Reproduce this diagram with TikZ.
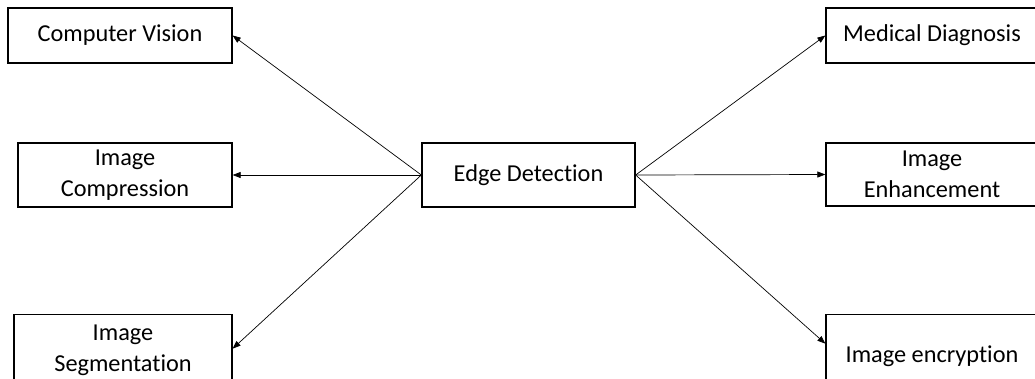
\documentclass[tikz,border=0pt]{standalone}
\usepackage{fontspec}
\setmainfont[Ligatures=NoCommon]{Carlito}
\usetikzlibrary{arrows.meta}
\begin{document}
\begin{tikzpicture}[x=1pt,y=-1pt,
  box/.style={draw=black,line width=1.3pt,fill=white,inner sep=0pt,align=center,
    font=\fontsize{24.3}{31}\selectfont},
  link/.style={line width=0.7pt,-{Triangle[length=8pt,width=6pt]}}]
\useasboundingbox (0,0) rectangle (1035,378);
% central node
\node[box,minimum width=213pt,minimum height=64pt] (ed) at (528.5,175) {Edge Detection};
% left column
\node[box,minimum width=224pt,minimum height=55pt] (cv) at (120,35.5) {Computer Vision};
\node[box,minimum width=214pt,minimum height=64pt] (ic) at (125,175) {Image\\Compression};
\node[box,minimum width=218pt,minimum height=72pt,anchor=north] (is) at (123,314) {Image\\Segmentation};
% right column
\node[box,minimum width=212pt,minimum height=55pt] (md) at (932,35.5) {Medical Diagnosis};
\node[box,minimum width=212pt,minimum height=63pt] (ie) at (932,174.5) {Image\\Enhancement};
\node[box,minimum width=212pt,minimum height=84pt,anchor=north] (en) at (932,314) {Image encryption};
% connectors
\draw[link] (ed.west) -- (cv.east);
\draw[link] (ed.west) -- (ic.east);
\draw[link] (ed.west) -- ([yshift=2pt]is.east);
\draw[link] (ed.east) -- (md.west);
\draw[link] (ed.east) -- (ie.west);
\draw[link] (ed.east) -- ([yshift=13pt]en.west);
\end{tikzpicture}
\end{document}
